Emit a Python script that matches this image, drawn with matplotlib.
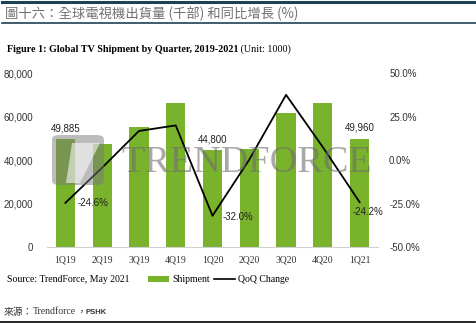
import matplotlib
matplotlib.use("Agg")
import matplotlib.pyplot as plt
from matplotlib.patches import Patch, FancyBboxPatch, Polygon
from matplotlib.lines import Line2D
import numpy as np

# ---------------- #
#   Chart data     #
# ---------------- #
quarters = ['1Q19', '2Q19', '3Q19', '4Q19', '1Q20', '2Q20', '3Q20', '4Q20', '1Q21']
shipment = [49885, 47380, 55360, 66440, 44800, 44940, 61830, 66440, 49960]
qoq_change = [-24.6, -4.3, 16.8, 20.0, -32.0, 0.3, 37.6, 7.5, -24.2]
left_ticks = [0, 20000, 40000, 60000, 80000]
right_ticks = [-50, -25, 0, 25, 50]

W, H = 477, 323
GREEN = '#79b22b'
TEAL = '#1b4352'

def fx(x):
    return x / W

def fy(y):
    return 1 - y / H

fig = plt.figure(figsize=(W / 100, H / 100), dpi=100)

# header lines + titles
fig.add_artist(Line2D([fx(2), fx(476)], [fy(1.5), fy(1.5)], color=TEAL, lw=2.2))
fig.add_artist(Line2D([fx(2), fx(476)], [fy(23), fy(23)], color=TEAL, lw=1.2))
fig.text(fx(5), fy(13.5), '圖十六：全球電視機出貨量 (千部) 和同比增長 (%)',
         family=['Noto Sans CJK TC', 'DejaVu Sans'], fontsize=9.6, color='#707070', va='center')
t = fig.text(fx(7), fy(49), 'Figure 1: Global TV Shipment by Quarter, 2019-2021',
             family='Liberation Serif', fontweight='bold', fontsize=7.3, va='center')
renderer = fig.canvas.get_renderer()
bb = t.get_window_extent(renderer=renderer)
fig.text(bb.x1 / W, fy(49), ' (Unit: 1000)', family='Liberation Serif', fontsize=7.3, va='center')

# ---------------- #
#   Main axes      #
# ---------------- #
ax = fig.add_axes([fx(47), fy(247), fx(378) - fx(47), fy(73.3) - fy(247)])
x = np.arange(len(quarters))
ax.bar(x, shipment, width=0.52, color=GREEN, zorder=2)
ax.set_xlim(-0.5, 8.5)
ax.set_ylim(0, 80000)
ax.set_yticks(left_ticks)
ax.set_yticklabels([f'{v:,}' for v in left_ticks], family='Liberation Sans', fontsize=7, color='#333333')
ax.set_xticks(x)
ax.set_xticklabels(quarters, family='Liberation Serif', fontsize=7, color='#333333')
ax.tick_params(length=0)
ax.tick_params(axis='y', pad=10)
ax.tick_params(axis='x', pad=6)
for s in ['top', 'right', 'left']:
    ax.spines[s].set_visible(False)
ax.spines['bottom'].set_color('#d0d0d0')
ax.spines['bottom'].set_linewidth(0.8)

for i in [0, 4, 8]:
    ax.annotate(f'{shipment[i]:,}', (x[i], shipment[i]), xytext=(0, 4), textcoords='offset points',
                ha='center', va='bottom', family='Liberation Sans', fontsize=7, color='#222222')

ax2 = ax.twinx()
ax2.plot(x, qoq_change, color='black', lw=1.3, zorder=4)
ax2.set_ylim(-50, 50)
ax2.set_yticks(right_ticks)
ax2.set_yticklabels([f'{v:.1f}%' for v in right_ticks], family='Liberation Sans', fontsize=7, color='#333333')
ax2.tick_params(length=0, pad=8)
for s in ['top', 'right', 'left', 'bottom']:
    ax2.spines[s].set_visible(False)

pct_offsets = {0: (9, 0), 4: (7, -1), 8: (-5, -7)}
for i, (dx, dy) in pct_offsets.items():
    ax2.annotate(f'{qoq_change[i]:.1f}%', (x[i], qoq_change[i]), xytext=(dx, dy), textcoords='offset points',
                 ha='left', va='center', family='Liberation Sans', fontsize=7, color='#222222')

# watermark
logo = FancyBboxPatch((fx(52), fy(185)), fx(52), fy(135) - fy(185), boxstyle='round,pad=0,rounding_size=0.015',
                      transform=fig.transFigure, facecolor='#7a7a7a', edgecolor='none', alpha=0.5, zorder=5)
fig.add_artist(logo)
fig.add_artist(Polygon([[fx(72), fy(143)], [fx(100), fy(143)], [fx(80), fy(183)], [fx(66), fy(183)]],
                       closed=True, transform=fig.transFigure, facecolor='white', alpha=0.55, edgecolor='none', zorder=6))
fig.text(fx(121), fy(163), 'TRENDFORCE', family='Liberation Serif', fontsize=27.5, color='#6e6e6e',
         alpha=0.6, va='center', ha='left', zorder=6)

# source + legend
fig.text(fx(7), fy(280), 'Source: TrendForce, May 2021', family='Liberation Serif', fontsize=7, va='center')
handles = [Patch(facecolor=GREEN, edgecolor='none'), Line2D([0], [0], color='black', lw=1.2)]
fig.legend(handles, ['Shipment', 'QoQ Change'], loc='center left', bbox_to_anchor=(fx(143), fy(280)),
           ncol=2, frameon=False, handlelength=2.2, handleheight=0.45, handletextpad=0.3,
           columnspacing=0.4, borderpad=0, prop={'family': 'Liberation Serif', 'size': 7})

# footer
fig.text(fx(4), fy(312), '來源：', family=['Noto Sans CJK TC', 'DejaVu Sans'], fontsize=7, va='center', color='#333333')
fig.text(fx(33), fy(312), 'Trendforce', family='Liberation Serif', fontsize=7, va='center', color='#333333')
fig.text(fx(76), fy(312), '，', family=['Noto Sans CJK TC', 'DejaVu Sans'], fontsize=7, va='center', color='#333333')
fig.text(fx(86), fy(312.5), 'PSHK', family='Liberation Sans', fontweight='bold', fontsize=5.5, va='center', color='#333333')
fig.add_artist(Line2D([fx(0), fx(475)], [fy(321.5), fy(321.5)], color='black', lw=1.2))

fig.savefig('out.png', dpi=100)
